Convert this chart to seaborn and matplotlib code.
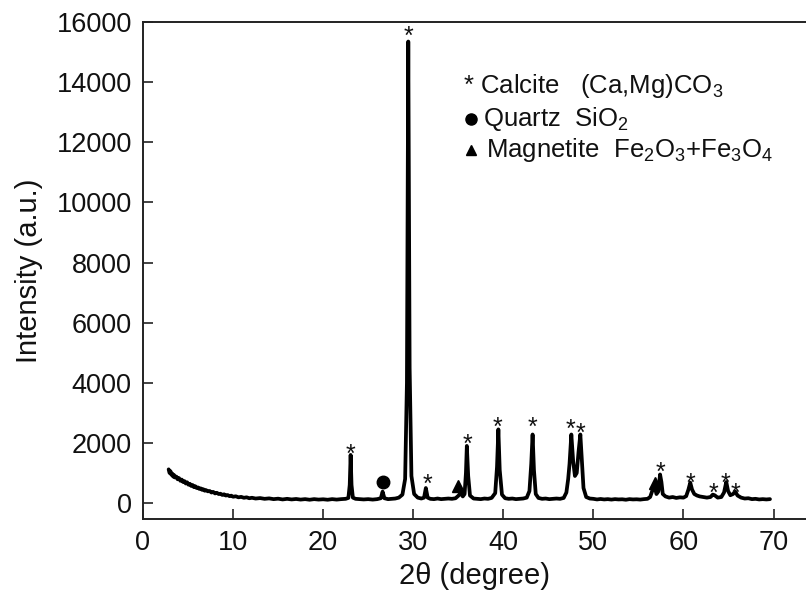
import matplotlib
matplotlib.use("Agg")
import matplotlib.pyplot as plt
import matplotlib.transforms as mtransforms
import seaborn as sns

# XRD pattern (2theta in degree, intensity in a.u.)
two_theta = [
    2.85, 2.95, 3.05, 3.15, 3.25, 3.35, 3.45, 3.55, 3.7, 3.85, 4.0, 4.15, 4.3, 4.45,
    4.6, 4.75, 4.9, 5.05, 5.2, 5.35, 5.5, 5.65, 5.8, 5.95, 6.1, 6.25, 6.4, 6.55, 6.7,
    6.85, 7.0, 7.2, 7.4, 7.6, 7.8, 8.0, 8.2, 8.4, 8.6, 8.8, 9.0, 9.2, 9.4, 9.6, 9.8,
    10.0, 10.3, 10.6, 10.9, 11.2, 11.5, 11.8, 12.1,
    12.5, 13.0, 13.5, 14.0, 14.5, 15.0, 15.5, 16.0, 16.5, 17.0, 17.5, 18.0,
    18.5, 19.0, 19.5, 20.0, 20.5, 21.0, 21.5, 22.0, 22.5,
    22.8, 22.95, 23.05, 23.15, 23.3, 23.6, 24.0, 24.5, 25.0, 25.5, 26.0,
    26.4, 26.6, 26.8, 27.2, 27.6, 28.0, 28.4, 28.8, 29.1, 29.3, 29.45, 29.6, 29.8,
    30.1, 30.5, 30.9, 31.2, 31.4, 31.6, 31.9, 32.3, 32.7, 33.1, 33.5, 33.9, 34.3,
    34.7, 35.0, 35.25, 35.5, 35.7, 35.85, 35.95, 36.1, 36.3, 36.7, 37.1, 37.5, 37.9,
    38.3, 38.7, 39.1, 39.3, 39.45, 39.6, 39.85, 40.2, 40.6, 41.0, 41.4, 41.8, 42.2,
    42.6, 42.9, 43.1, 43.25, 43.4, 43.6, 43.9, 44.3, 44.7, 45.1, 45.5, 45.9, 46.3,
    46.7, 47.0, 47.2, 47.35, 47.55, 47.75, 47.95, 48.15, 48.35, 48.55, 48.7, 48.9,
    49.2, 49.6, 50.0, 50.4, 50.8, 51.2, 51.6, 52.0, 52.4, 52.8, 53.2, 53.6, 54.0,
    54.4, 54.8, 55.2, 55.6, 56.0, 56.3, 56.55, 56.8, 57.0, 57.2, 57.4, 57.55, 57.7,
    58.0, 58.4, 58.8, 59.2, 59.6, 60.0, 60.3, 60.55, 60.75, 60.95, 61.2, 61.5, 61.8,
    62.2, 62.6, 63.0, 63.25, 63.45, 63.8, 64.2, 64.5, 64.75, 64.95, 65.2, 65.5,
    65.75, 66.0, 66.4, 66.8, 67.2, 67.6, 68.0, 68.4, 68.8, 69.2, 69.6,
]
intensity = [
    1120, 1000, 1060, 940, 980, 880, 930, 850, 880, 790, 830, 740, 780, 700,
    730, 650, 690, 610, 640, 570, 600, 530, 560, 500, 520, 470, 490, 440, 460,
    410, 430, 390, 400, 350, 370, 320, 340, 300, 310, 270, 290, 250, 265, 230, 245,
    210, 225, 190, 205, 175, 190, 160, 175,
    150, 165, 140, 155, 130, 145, 120, 140, 120, 135, 115, 130,
    110, 130, 115, 125, 110, 130, 115, 130, 140,
    170, 600, 1600, 600, 180, 140, 130, 120, 130, 115, 130,
    160, 380, 160, 130, 140, 150, 180, 280, 800, 4000, 15350, 4500, 900,
    300, 180, 150, 180, 500, 180, 140, 130, 150, 130, 140, 150, 140,
    160, 240, 330, 220, 300, 1000, 1900, 900, 250, 150, 140, 130, 150,
    140, 170, 330, 1200, 2450, 1100, 280, 160, 140, 150, 130, 140, 150,
    180, 400, 1300, 2280, 1100, 300, 170, 140, 150, 130, 140, 150, 140,
    170, 350, 800, 1300, 2280, 1400, 900, 1000, 1700, 2280, 1500, 500,
    200, 150, 140, 120, 135, 120, 130, 115, 130, 120, 125, 110, 130,
    120, 125, 115, 130, 140, 200, 420, 550, 300, 380, 950, 700, 300,
    220, 180, 200, 170, 190, 180, 230, 450, 680, 450, 300, 250, 220,
    200, 180, 200, 280, 260, 180, 200, 350, 700, 400, 260, 300,
    380, 250, 180, 150, 160, 130, 140, 120, 130, 120, 130,
]

# phase markers above the peaks
calcite_x = [23.0, 29.5, 31.6, 36.0, 39.4, 43.25, 47.45, 48.55, 57.5, 60.8, 63.3, 64.7, 65.8]
calcite_y = [1850, 15750, 870, 2200, 2750, 2750, 2680, 2560, 1250, 900, 550, 900, 550]
quartz_x = [26.6]
quartz_y = [710]
magnetite_x = [35.0, 56.8]
magnetite_y = [560, 680]

legend_lines = [
    "* Calcite   (Ca,Mg)CO$_3$",
    "Quartz  SiO$_2$",
    "Magnetite  Fe$_2$O$_3$+Fe$_3$O$_4$",
]

sns.set_theme(style="ticks")
plt.rcParams["font.family"] = ["Liberation Sans", "DejaVu Sans"]
plt.rcParams["mathtext.fontset"] = "custom"
plt.rcParams["mathtext.rm"] = "Liberation Sans"
plt.rcParams["mathtext.it"] = "Liberation Sans:italic"
plt.rcParams["mathtext.bf"] = "Liberation Sans:bold"

fig = plt.figure(figsize=(8.06, 5.94), dpi=100)
ax = fig.add_axes([0.1774, 0.1263, 0.8226, 0.8367])

sns.lineplot(x=two_theta, y=intensity, ax=ax, color="black", linewidth=2.7,
             estimator=None, sort=False)

star_fs = 18
star_tr = mtransforms.offset_copy(ax.transData, fig=fig, y=-star_fs * 0.58, units="points")
for x, y in zip(calcite_x, calcite_y):
    ax.text(x, y, "*", transform=star_tr, ha="center", va="baseline",
            fontsize=star_fs, color="#111111")
ax.plot(quartz_x, quartz_y, "o", color="black", markersize=9)
ax.plot(magnetite_x, magnetite_y, "^", color="black", markersize=8.5)

# legend as plain text lines
leg_x = 0.483
leg_y = [0.871, 0.805, 0.742]
ax.text(leg_x, leg_y[0], legend_lines[0], transform=ax.transAxes, fontsize=18.5,
        va="center", ha="left", color="#111111")
ax.text(leg_x + 0.030, leg_y[1], legend_lines[1], transform=ax.transAxes, fontsize=18.5,
        va="center", ha="left", color="#111111")
ax.text(leg_x + 0.035, leg_y[2], legend_lines[2], transform=ax.transAxes, fontsize=18.5,
        va="center", ha="left", color="#111111")
ax.plot([leg_x + 0.012], [leg_y[1]], "o", color="black", markersize=8, transform=ax.transAxes)
ax.plot([leg_x + 0.012], [leg_y[2]], "^", color="black", markersize=7.5, transform=ax.transAxes)

ax.set_xlim(0, 73.6)
ax.set_ylim(-530, 16000)
ax.set_xticks(range(0, 71, 10))
ax.set_yticks(range(0, 16001, 2000))
ax.tick_params(direction="in", length=7, width=1.1, labelsize=19.5, pad=8, colors="#111111")
ax.set_xlabel("2\u03b8 (degree)", fontsize=21, labelpad=4, color="#111111")
ax.set_ylabel("Intensity (a.u.)", fontsize=21, labelpad=10, color="#111111")
for side in ["left", "bottom", "top"]:
    ax.spines[side].set_linewidth(1.4)
    ax.spines[side].set_color("#222222")
ax.spines["right"].set_visible(False)

fig.savefig("out.png", dpi=100)
